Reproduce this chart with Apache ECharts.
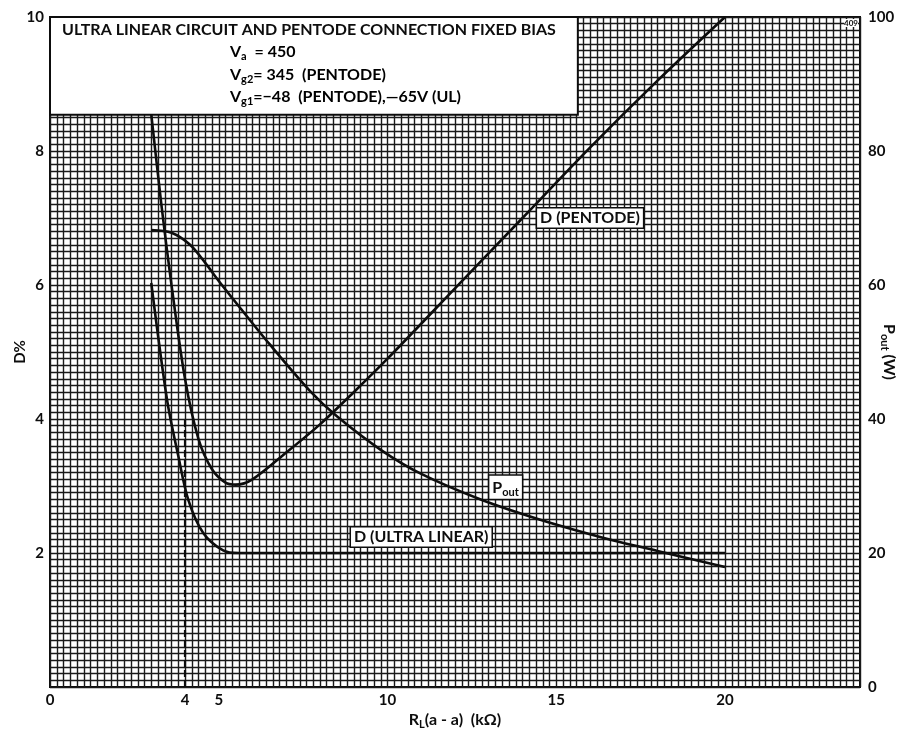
<!DOCTYPE html>
<html>
<head>
<meta charset="utf-8">
<script src="https://cdn.jsdelivr.net/npm/echarts@6/dist/echarts.min.js"></script>
<style>
  html, body { margin: 0; padding: 0; background: #fff; }
  #chart { width: 912px; height: 736px; }
</style>
</head>
<body>
<div id="chart"></div>
<script>
// Load resistance R_L (a-a), kΩ, and the three measured curves
const rlPentode = [3.0, 3.3, 3.6, 4.0, 4.4, 4.8, 5.2, 5.5, 6.0, 7.0, 8.0, 9.0, 10, 12, 14, 16, 18, 20];
const dPentode  = [8.55, 7.2, 6.0, 4.6, 3.7, 3.25, 3.05, 3.02, 3.1, 3.5, 3.92, 4.4, 4.9, 5.95, 7.0, 8.05, 9.05, 10.0];

const rlUltraLinear = [3.0, 3.47, 3.8, 4.1, 4.54, 5.13, 5.6, 8, 12, 16, 20];
const dUltraLinear  = [6.03, 4.28, 3.45, 2.79, 2.30, 2.04, 2.0, 2.0, 2.0, 2.0, 2.0];

const rlPout = [3.0, 3.6, 4.15, 4.6, 5.0, 5.6, 6.5, 7.7, 8.5, 9.8, 11, 12.8, 14.5, 16.3, 18, 20];
const pOut   = [68.2, 67.8, 66.0, 63.3, 60.6, 56.8, 51.2, 44.2, 40.4, 35.4, 31.8, 27.9, 25, 22.4, 20.3, 17.9];

// Tick labels shown on each axis
const xTickLabels = [0, 4, 5, 10, 15, 20];
const dTickLabels = [2, 4, 6, 8, 10];
const pTickLabels = [0, 20, 40, 60, 80, 100];

// Operating-point marker and the conditions panel extent
const markerRL = 4;
const panelRange = { x: [0, 15.64], y: [8.54, 10] };

const titleLine = 'ULTRA LINEAR CIRCUIT AND PENTODE CONNECTION FIXED BIAS';

const FONT = 'Lato, "Open Sans", sans-serif';
const INK = '#0d0d0d';
const GRIDINK = '#1a1a1a';

const pair = (xs, ys) => xs.map((x, i) => [x, ys[i]]);

const chart = echarts.init(document.getElementById('chart'));

const subRich = {
  t: { fontFamily: FONT, fontSize: 16, fontWeight: 'bold', color: INK },
  s: { fontFamily: FONT, fontSize: 11, fontWeight: 'bold', color: INK, padding: [9, 0, 0, 0] }
};

const curveStyle = { color: INK, width: 2.6 };
const gridLine = { color: GRIDINK, width: 1.4 };

chart.setOption({
  animation: false,
  backgroundColor: '#fff',
  grid: {
    left: 50, right: 52, top: 17, bottom: 49,
    containLabel: false, outerBoundsMode: 'none',
    show: true, borderColor: INK, borderWidth: 2, backgroundColor: 'transparent'
  },
  xAxis: {
    type: 'value', min: 0, max: 24, interval: 1,
    name: '{t|R}{s|L}{t|(a - a)  (kΩ)}',
    nameLocation: 'middle', nameGap: 23, nameMoveOverlap: false,
    nameTextStyle: { rich: subRich },
    axisLine: { show: false },
    axisTick: { show: false },
    axisLabel: {
      margin: 6, fontFamily: FONT, fontSize: 15, fontWeight: 'bold', color: INK,
      formatter: v => (xTickLabels.includes(v) ? String(v) : '')
    },
    splitLine: { show: true, lineStyle: gridLine },
    minorTick: { show: false, splitNumber: 5 },
    minorSplitLine: { show: true, lineStyle: gridLine }
  },
  yAxis: [
    {
      type: 'value', min: 0, max: 10, interval: 1, position: 'left',
      name: 'D%', nameLocation: 'middle', nameGap: 22, nameRotate: 90, nameMoveOverlap: false,
      nameTextStyle: { fontFamily: FONT, fontSize: 15, fontWeight: 'bold', color: INK },
      axisLine: { show: false },
      axisTick: { show: false },
      axisLabel: {
        margin: 6, fontFamily: FONT, fontSize: 15, fontWeight: 'bold', color: INK,
        formatter: v => (dTickLabels.includes(v) ? String(v) : '')
      },
      splitLine: { show: true, lineStyle: gridLine },
      minorTick: { show: false, splitNumber: 10 },
      minorSplitLine: { show: true, lineStyle: gridLine }
    },
    {
      type: 'value', min: 0, max: 100, interval: 20, position: 'right',
      name: '{t|P}{s|out}{t| (W)}', nameLocation: 'middle', nameGap: 19, nameRotate: -90,
      nameMoveOverlap: false,
      nameTextStyle: { rich: subRich },
      axisLine: { show: false },
      axisTick: { show: false },
      axisLabel: {
        margin: 8, fontFamily: FONT, fontSize: 15, fontWeight: 'bold', color: INK,
        formatter: v => (pTickLabels.includes(v) ? String(v) : '')
      },
      splitLine: { show: false }
    }
  ],
  series: [
    {
      name: 'D (PENTODE)', type: 'line', yAxisIndex: 0, showSymbol: false,
      smooth: 0.3, data: pair(rlPentode, dPentode),
      lineStyle: curveStyle, z: 3,
      markArea: {
        silent: true,
        itemStyle: { color: '#fff', borderColor: INK, borderWidth: 2 },
        data: [[{ coord: [panelRange.x[0], panelRange.y[0]] }, { coord: [panelRange.x[1], panelRange.y[1]] }]]
      }
    },
    {
      name: 'D (ULTRA LINEAR)', type: 'line', yAxisIndex: 0, showSymbol: false,
      smooth: 0.3, data: pair(rlUltraLinear, dUltraLinear),
      lineStyle: curveStyle, z: 3,
      markLine: {
        silent: true, symbol: 'none', label: { show: false },
        lineStyle: { color: INK, width: 2.2, type: [7, 3] },
        data: [[{ coord: [markerRL, 0] }, { coord: [markerRL, 4.0] }]]
      }
    },
    {
      name: 'Pout', type: 'line', yAxisIndex: 1, showSymbol: false,
      smooth: 0.3, data: pair(rlPout, pOut),
      lineStyle: curveStyle, z: 3
    }
  ]
});

// Conditions panel text and curve tags, placed through the axis scales
const toPx = (x, y, yi) => chart.convertToPixel({ xAxisIndex: 0, yAxisIndex: yi || 0 }, [x, y]);
const richTag = {
  t: { fontFamily: FONT, fontSize: 16, fontWeight: 'bold', color: INK },
  s: { fontFamily: FONT, fontSize: 11, fontWeight: 'bold', color: INK, padding: [9, 0, 0, 0] }
};
const tagStyle = (text, rich) => ({
  text, rich,
  fontFamily: FONT, fontSize: 16, fontWeight: 'bold', fill: INK,
  backgroundColor: '#fff', borderColor: INK, borderWidth: 1.5,
  padding: [2, 3, 1, 3], align: 'center', verticalAlign: 'middle'
});

const topLeft = toPx(panelRange.x[0], panelRange.y[1]);
const pentTag = toPx(16.0, 7.0);
const poutTag = toPx(13.5, 2.98);
const ulTag = toPx(11.0, 2.24);

chart.setOption({
  graphic: [
    { type: 'text', left: topLeft[0] + 12, top: topLeft[1] + 5, z: 20,
      style: { text: titleLine, fontFamily: FONT, fontSize: 16, fontWeight: 'bold', fill: INK } },
    { type: 'text', left: 230, top: 44, z: 20,
      style: { text: '{t|V}{s|a}{t|  = 450}', rich: richTag } },
    { type: 'text', left: 230, top: 67, z: 20,
      style: { text: '{t|V}{s|g2}{t|= 345  (PENTODE)}', rich: richTag } },
    { type: 'text', left: 230, top: 89, z: 20,
      style: { text: '{t|V}{s|g1}{t|=−48  (PENTODE),—65V (UL)}', rich: richTag } },
    { type: 'text', x: pentTag[0], y: pentTag[1], z: 20, style: tagStyle('D (PENTODE)') },
    { type: 'text', x: poutTag[0], y: poutTag[1], z: 20, style: tagStyle('{t|P}{s|out}', richTag) },
    { type: 'text', x: ulTag[0], y: ulTag[1], z: 20, style: tagStyle('D (ULTRA LINEAR)') },
    { type: 'text', right: 54, top: 19, z: 20,
      style: { text: '409', fontFamily: FONT, fontSize: 8, fontWeight: 'bold', fill: INK,
               backgroundColor: '#fff' } }
  ]
});
</script>
</body>
</html>
